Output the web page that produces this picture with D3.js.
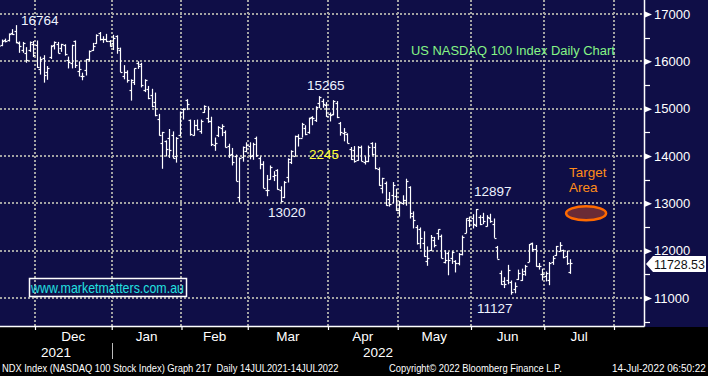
<!DOCTYPE html>
<html>
<head>
<meta charset="utf-8">
<script src="https://cdn.jsdelivr.net/npm/d3@7"></script>
<style>
  body { margin: 0; background: #000; }
  svg { display: block; font-family: "Liberation Sans", Arial, sans-serif; }
  .pre { white-space: pre; }
</style>
</head>
<body>
<div id="chart"></div>
<script>
// NDX daily bars, 15 Nov 2021 .. 13 Jul 2022 (one entry per trading day)
const opens = [
  16380,16340,16450,16460,16600,16650,16390,16250,16180,16250,16370,
  16350,15830,16080,15770,16100,16340,16370,16290,16340,16020,15970,16420,15800,15680,15810,16040,16230,16380,16590,16480,16470,16430,
  16390,16530,16250,15700,15780,15400,15560,15970,15950,15400,15410,15290,15150,14790,14280,14310,14380,14450,14000,14440,
  14990,15190,14760,14450,14660,14520,14920,14800,14730,14240,14450,14590,14510,14220,14040,14010,13140,13970,14110,
  14220,14030,14370,13960,13830,13280,13520,13580,13700,13290,13140,13550,13880,14000,14420,14390,14590,14510,14820,14760,15130,15160,15080,
  14890,14880,15120,14690,14490,14460,14150,14120,13920,14200,13880,13890,14280,14200,13730,13320,13440,13100,13180,13160,
  12850,13000,13070,13340,12730,12510,12450,12170,11790,12010,12220,12370,12320,11770,11950,11850,11790,11730,11920,12380,12640,
  12700,12550,12710,12720,12520,12700,12570,12070,11530,11350,11380,11330,11200,11400,11370,11560,11760,12160,12040,11670,11510,
  11460,11390,11770,11900,12000,12010,11880,11550
];
const highs = [
  16400,16460,16480,16590,16680,16765,16420,16410,16300,16420,16430,
  16440,16100,16130,15900,16340,16420,16410,16370,16360,16100,16350,16440,16000,15760,16050,16230,16390,16570,16620,16530,16580,16450,
  16560,16550,16290,15920,15810,15620,15850,16000,15970,15620,15480,15420,15340,14890,14510,14330,14570,14520,14400,14940,
  15010,15200,14770,14760,14770,14770,15070,15050,14830,14390,14630,14670,14540,14260,14170,14030,13970,14200,14290,
  14290,14280,14410,13990,13890,13600,13800,13680,13720,13360,13470,13950,14120,14430,14460,14700,14650,14810,14840,15050,15265,15210,15140,
  14920,15180,15160,14720,14590,14480,14190,14210,14210,14220,13990,14220,14290,14280,13760,13540,13460,13240,13450,13310,
  13050,13170,13520,13360,12830,12540,12490,12410,12090,12330,12290,12450,12340,12010,11980,11990,11800,11950,12320,12680,12720,
  12770,12880,12750,12800,12750,12780,12680,12100,11580,11440,11700,11370,11330,11600,11620,11700,12140,12170,12120,11740,11620,
  11560,11760,11890,12100,12180,12020,12000,11820
];
const lows = [
  16270,16320,16400,16420,16560,16380,16180,16180,15970,16200,16090,
  15860,15720,15550,15610,16050,16250,16170,16200,16120,15850,15850,15860,15680,15600,15700,16000,16220,16370,16440,16390,16410,16310,
  16240,16160,15770,15620,15550,15170,15500,15840,15450,15350,15200,15030,14840,14430,13730,13990,13960,13950,13860,14420,
  14770,14970,14430,14430,14540,14470,14910,14700,14210,14110,14400,14420,14180,13960,13800,13470,13020,13880,14080,
  13930,13920,13980,13720,13320,13150,13500,13470,13290,13020,13110,13440,13830,13990,14200,14390,14440,14470,14650,14720,15010,15020,14830,
  14730,14860,14800,14430,14310,14270,13920,13860,13900,13890,13820,13870,14010,13720,13370,13210,12950,12930,13000,12840,
  12720,12970,12950,12680,12470,12130,12040,11870,11680,11990,12070,12230,11840,11730,11480,11720,11540,11690,11900,12370,12500,
  12470,12500,12540,12560,12510,12590,12270,11830,11280,11210,11290,11070,11100,11380,11360,11470,11760,11980,11660,11600,11370,
  11350,11270,11700,11890,11990,11840,11700,11510
];
const closes = [
  16330,16430,16420,16570,16570,16400,16330,16390,16030,16400,16130,
  15880,16050,15710,15850,16330,16400,16180,16360,16150,15980,16340,15930,15830,15690,16050,16220,16320,16560,16470,16470,16420,16320,
  16500,16280,15770,15770,15600,15610,15850,15910,15500,15610,15230,15050,14860,14440,14510,14150,14130,13950,14390,14930,
  15000,15100,14470,14660,14560,14750,15060,14730,14250,14270,14620,14630,14200,14030,13870,13470,13950,14200,14240,
  14010,14260,14030,13840,13320,13280,13760,13600,13300,13050,13450,13940,14110,14420,14380,14680,14460,14800,14810,15040,15240,15090,14840,
  14860,15170,14830,14500,14510,14280,13940,13890,14180,13900,13900,14190,14050,13750,13390,13530,12960,12980,13380,12850,
  13030,13060,13470,12800,12650,12160,12260,11880,11850,12280,12130,12450,11850,11800,11800,11980,11750,11930,12280,12680,12640,
  12560,12880,12560,12620,12720,12620,12270,11830,11300,11300,11600,11130,11260,11530,11500,11680,12140,12040,11670,11680,11500,
  11530,11750,11850,12100,12130,11870,11740,11730
];

// first trading day index of each month (Dec .. Aug) and their labels
const monthStarts = [11, 33, 53, 72, 95, 115, 136, 157, 177];
const monthNames  = ['Dec', 'Jan', 'Feb', 'Mar', 'Apr', 'May', 'Jun', 'Jul'];
const yearLabels  = ['2021', '2022'];
const yTicks      = [11000, 12000, 13000, 14000, 15000, 16000, 17000];
const yMinor      = [10500, 11500, 12500, 13500, 14500, 15500, 16500];
const lastPrice   = 11728.53;

'use strict';

const W = 708, H = 376;
const plotR = 644, plotB = 326;
const navy = '#0f0e47';

const svg = d3.select('#chart').append('svg').attr('width', W).attr('height', H);
svg.append('rect').attr('width', W).attr('height', H).attr('fill', '#000');
svg.append('rect').attr('width', W).attr('height', plotB + 1).attr('fill', navy);

// scales: x is trading-day index
const x = d3.scaleLinear().domain([0.47, 185.1]).range([0, plotR]);
const y = d3.scaleLinear().domain([11000, 17000]).range([298, 14]);

const edges = monthStarts.map(d => d - 0.5);

//squeeze a text horizontally so it spans len px (bloomberg font is narrow)
function fit(sel, xx, yy, len) {
  const w = sel.node().getComputedTextLength();
  sel.attr('x', 0).attr('y', 0).attr('transform', `translate(${xx},${yy}) scale(${len / w},1)`);
  return sel;
}

//grid
const grid = svg.append('g').attr('stroke', '#a3a3a3').attr('stroke-width', 2).attr('stroke-dasharray', '2,2');
grid.selectAll('.hg').data(yTicks).join('line')
  .attr('x1', 0).attr('x2', plotR)
  .attr('y1', d => Math.round(y(d))).attr('y2', d => Math.round(y(d)));
grid.selectAll('.vg').data(edges).join('line')
  .attr('x1', d => Math.round(x(d))).attr('x2', d => Math.round(x(d)))
  .attr('y1', 0).attr('y2', plotB);

//bars
svg.append('clipPath').attr('id', 'clip').append('rect').attr('width', plotR).attr('height', plotB);
const bars = svg.append('g').attr('clip-path', 'url(#clip)').attr('stroke', '#fff').attr('stroke-width', 1.2);
closes.forEach((c, i) => {
  const xi = Math.round(x(i)) + 0.5;
  const g = bars.append('g');
  g.append('line').attr('x1', xi).attr('x2', xi).attr('y1', y(highs[i])).attr('y2', y(lows[i]));
  g.append('line').attr('x1', xi - 2).attr('x2', xi).attr('y1', Math.round(y(opens[i])) + 0.5).attr('y2', Math.round(y(opens[i])) + 0.5);
  g.append('line').attr('x1', xi).attr('x2', xi + 2).attr('y1', Math.round(y(c)) + 0.5).attr('y2', Math.round(y(c)) + 0.5);
});

//axis frame
svg.append('line').attr('x1', 0).attr('x2', plotR + 0.5).attr('y1', plotB + 0.5).attr('y2', plotB + 0.5).attr('stroke', '#fff').attr('stroke-width', 1.5);
svg.append('line').attr('x1', plotR + 0.5).attr('x2', plotR + 0.5).attr('y1', 0).attr('y2', plotB + 0.5).attr('stroke', '#fff').attr('stroke-width', 1.5);

//bottom axis ticks
const xAxis = d3.axisBottom(x).tickValues(edges).tickSize(4).tickFormat('');
const gx = svg.append('g').attr('transform', `translate(0,${plotB})`).call(xAxis);
gx.select('.domain').remove();
gx.selectAll('.tick line').attr('stroke', '#fff').attr('stroke-width', 1.2);

svg.selectAll('.mlab').data(monthNames).join('text')
  .attr('x', (d, i) => x((edges[i] + edges[i + 1]) / 2))
  .attr('y', 341).attr('text-anchor', 'middle')
  .attr('fill', '#fff').style('font-size', '13.5px').text(d => d);

svg.selectAll('.ylab').data(yearLabels).join('text')
  .attr('x', (d, i) => i === 0 ? 56 : 378)
  .attr('y', 357).attr('text-anchor', 'middle')
  .attr('fill', '#fff').style('font-size', '13.5px').text(d => d);
svg.append('line').attr('x1', Math.round(x(edges[1])) + 0.5).attr('x2', Math.round(x(edges[1])) + 0.5)
  .attr('y1', 343).attr('y2', 359).attr('stroke', '#bbb').attr('stroke-width', 1);

//right axis
const yAxis = d3.axisRight(y).tickValues(yTicks).tickSize(0).tickPadding(10).tickFormat(d3.format('d'));
const gy = svg.append('g').attr('transform', `translate(${plotR},0)`).call(yAxis);
gy.select('.domain').remove();
gy.selectAll('.tick text').attr('fill', '#fff').style('font-size', '13px')
  .style('font-family', '"Liberation Sans", Arial, sans-serif');
gy.selectAll('.tick').append('path').attr('d', 'M1,-3L8,0L1,3Z').attr('fill', '#fff');
svg.append('g').selectAll('line').data(yMinor).join('line')
  .attr('x1', plotR).attr('x2', plotR + 6)
  .attr('y1', d => Math.round(y(d)) + 0.5).attr('y2', d => Math.round(y(d)) + 0.5)
  .attr('stroke', '#fff').attr('stroke-width', 1.2);

//last price tag
const ly = Math.round(y(lastPrice));
svg.append('path')
  .attr('d', `M${plotR + 2},${ly}L${plotR + 9},${ly - 8}L706,${ly - 8}L706,${ly + 8}L${plotR + 9},${ly + 8}Z`)
  .attr('fill', '#fff');
fit(svg.append('text').attr('fill', '#111').style('font-size', '12px').text(lastPrice.toFixed(2)),
  plotR + 10, ly + 5, 51);

//annotations
const note = (t, xx, yy, col, size) => svg.append('text').attr('x', xx).attr('y', yy)
  .attr('fill', col).style('font-size', size || '13.5px').text(t);
note('16764', 21, 25, '#eef3ff');
note('15265', 307, 90, '#eef3ff');
note('2245', 309, 159, '#ffff33');
note('13020', 268, 217, '#eef3ff');
note('12897', 474, 196, '#eef3ff');
note('11127', 477, 313, '#eef3ff');
fit(note('US NASDAQ 100 Index Daily Chart', 0, 0, '#86f586', '13.5px'), 411, 55, 204);
note('Target', 569, 177, '#ff8c1a');
note('Area', 569, 192, '#ff8c1a');

svg.append('ellipse').attr('cx', x(168.5)).attr('cy', y(12790)).attr('rx', 20).attr('ry', 7)
  .attr('fill', '#6a2b36').attr('stroke', '#ff6a00').attr('stroke-width', 2.5);

//website box
svg.append('rect').attr('x', 29.5).attr('y', 278.5).attr('width', 157).attr('height', 18)
  .attr('fill', 'none').attr('stroke', '#fff').attr('stroke-width', 1.5);
fit(note('www.marketmatters.com.au', 0, 0, '#22e0e0', '14px'), 31, 293, 153);

//footer
const foot = (t, xx, len) => fit(svg.append('text').attr('class', 'pre')
  .attr('fill', '#fff').style('font-size', '11px').text(t), xx, 372, len);
foot('NDX Index (NASDAQ 100 Stock Index) Graph 217  Daily 14JUL2021-14JUL2022', 2, 337);
foot('Copyright\u00a9 2022 Bloomberg Finance L.P.', 389, 173);
foot('14-Jul-2022 06:50:22', 612, 94);
</script>
</body>
</html>
